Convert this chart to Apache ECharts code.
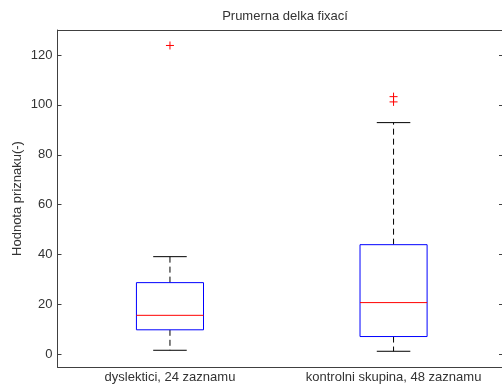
<!DOCTYPE html>
<html>
<head>
<meta charset="utf-8">
<script src="https://cdn.jsdelivr.net/npm/echarts@6/dist/echarts.min.js"></script>
<style>
  html, body { margin: 0; padding: 0; background: #fff; }
  #chart { width: 502px; height: 389px; }
</style>
</head>
<body>
<div id="chart"></div>
<script>
// Groups and their box statistics: [min whisker, Q1, median, Q3, max whisker]
const categories = ['dyslektici, 24 zaznamu', 'kontrolni skupina, 48 zaznamu'];
const lowerWhisker = [1.7, 1.3];
const q1 = [9.9, 7.2];
const median = [15.7, 20.8];
const q3 = [28.8, 44.0];
const upperWhisker = [39.2, 92.9];
// Outliers as [group index (1-based), value]
const outliers = [[1, 123.8], [2, 103.3], [2, 101.2]];
const yTicks = [0, 20, 40, 60, 80, 100, 120];

const boxData = categories.map((c, i) => [i + 1, lowerWhisker[i], q1[i], median[i], q3[i], upperWhisker[i]]);

const font = 'Liberation Sans, Arial, sans-serif';
const axisColor = '#404040';
const textColor = '#333';

const chart = echarts.init(document.getElementById('chart'), null, { renderer: 'canvas' });

function renderBox(params, api) {
  const x = api.value(0);
  const lo = api.value(1), b1 = api.value(2), md = api.value(3), b3 = api.value(4), hi = api.value(5);
  const halfBox = 0.15, halfCap = 0.075;
  const pLo = api.coord([x, lo]);
  const p1 = api.coord([x, b1]);
  const pm = api.coord([x, md]);
  const p3 = api.coord([x, b3]);
  const pHi = api.coord([x, hi]);
  const left = api.coord([x - halfBox, b1])[0];
  const right = api.coord([x + halfBox, b1])[0];
  const capL = api.coord([x - halfCap, b1])[0];
  const capR = api.coord([x + halfCap, b1])[0];
  const cx = pm[0];
  const dashed = { stroke: '#000', lineWidth: 1, lineDash: [6, 4] };
  const solid = { stroke: '#000', lineWidth: 1 };
  return {
    type: 'group',
    children: [
      { type: 'line', shape: { x1: cx, y1: p3[1], x2: cx, y2: pHi[1] }, style: dashed },
      { type: 'line', shape: { x1: cx, y1: p1[1], x2: cx, y2: pLo[1] }, style: dashed },
      { type: 'line', shape: { x1: capL, y1: pHi[1], x2: capR, y2: pHi[1] }, style: solid },
      { type: 'line', shape: { x1: capL, y1: pLo[1], x2: capR, y2: pLo[1] }, style: solid },
      { type: 'rect', shape: { x: left, y: p3[1], width: right - left, height: p1[1] - p3[1] },
        style: { fill: '#fff', stroke: '#0000ff', lineWidth: 1 } },
      { type: 'line', shape: { x1: left, y1: pm[1], x2: right, y2: pm[1] }, style: { stroke: '#ff0000', lineWidth: 1 } }
    ]
  };
}

function renderPlus(params, api) {
  const p = api.coord([api.value(0), api.value(1)]);
  const s = 4;
  const st = { stroke: '#ff0000', lineWidth: 1 };
  return {
    type: 'group',
    children: [
      { type: 'line', shape: { x1: p[0] - s, y1: p[1], x2: p[0] + s, y2: p[1] }, style: st },
      { type: 'line', shape: { x1: p[0], y1: p[1] - s, x2: p[0], y2: p[1] + s }, style: st }
    ]
  };
}

chart.setOption({
  animation: false,
  backgroundColor: '#fff',
  title: {
    text: 'Prumerna delka fixací',
    left: 280, top: 5, textAlign: 'center',
    textStyle: { fontFamily: font, fontSize: 13, fontWeight: 'normal', color: textColor }
  },
  grid: { left: 57.5, right: 0, top: 30, bottom: 22, containLabel: false },
  xAxis: [{
    type: 'value', min: 0.497, max: 2.485,
    axisLine: { show: true, onZero: false, lineStyle: { color: axisColor } },
    axisTick: { show: false },
    splitLine: { show: false },
    axisLabel: {
      customValues: [1, 2], showMinLabel: true, showMaxLabel: true,
      formatter: v => categories[Math.round(v) - 1] || '',
      fontFamily: font, fontSize: 13, color: textColor, margin: 4
    }
  }, {
    type: 'value', position: 'top', min: 0.497, max: 2.485,
    axisLine: { show: true, onZero: false, lineStyle: { color: axisColor } },
    axisTick: { show: false }, axisLabel: { show: false }, splitLine: { show: false }
  }],
  yAxis: [{
    type: 'value', min: -5, max: 130,
    name: 'Hodnota priznaku(-)', nameLocation: 'middle', nameGap: 34, nameRotate: 90,
    nameMoveOverlap: false,
    nameTextStyle: { fontFamily: font, fontSize: 13, color: textColor },
    axisLine: { show: true, onZero: false, lineStyle: { color: axisColor } },
    axisTick: { show: true, inside: true, length: 4, customValues: yTicks, lineStyle: { color: axisColor } },
    axisLabel: { customValues: yTicks, fontFamily: font, fontSize: 13, color: textColor, margin: 5 },
    splitLine: { show: false }
  }, {
    type: 'value', position: 'right', min: -5, max: 130,
    axisLine: { show: false },
    axisTick: { show: true, inside: true, length: 3, customValues: yTicks, lineStyle: { color: axisColor } },
    axisLabel: { show: false },
    splitLine: { show: false }
  }],
  series: [{
    type: 'custom',
    renderItem: renderBox,
    data: boxData,
    encode: { x: 0, y: [1, 2, 3, 4, 5] },
    clip: false
  }, {
    type: 'custom',
    renderItem: renderPlus,
    data: outliers,
    encode: { x: 0, y: 1 }
  }]
});
</script>
</body>
</html>
